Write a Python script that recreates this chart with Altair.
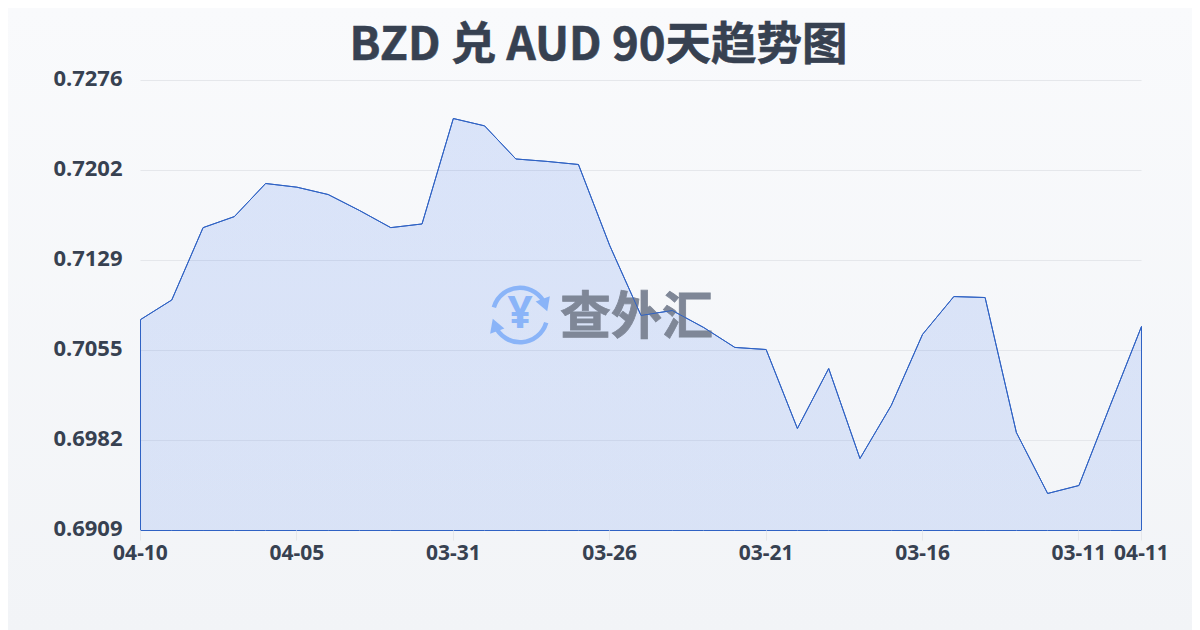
import altair as alt
import pandas as pd

dates = ["04-10","04-09","04-08","04-07","04-06","04-05","04-04","04-03","04-02","04-01","03-31",
         "03-30","03-29","03-28","03-27","03-26","03-25","03-24","03-23","03-22","03-21",
         "03-20","03-19","03-18","03-17","03-16","03-15","03-14","03-13","03-12","03-11","03-10","04-11"]
rates = [0.7081,0.7097,0.7156,0.7165,0.7192,0.7189,0.7183,0.7170,0.7156,0.7159,0.7245,
         0.7239,0.7212,0.7210,0.72075,0.71414,0.70844,0.70884,0.70746,0.70583,0.70566,
         0.69922,0.70411,0.69677,0.7011,0.70689,0.70998,0.7099,0.69889,0.69392,0.69457,0.7011,0.70754]
x_ticks = ["04-10","04-05","03-31","03-26","03-21","03-16","03-11","04-11"]
y_ticks = [0.6909,0.69824,0.70558,0.71292,0.72026,0.7276]
title_text = "BZD 兑 AUD 90天趋势图"
watermark = "查外汇"
y_floor = 0.6909
y_top = 0.7276

W, H = 1001, 450
L, T = 132.5, 72.5
TOTAL_W, TOTAL_H = 1184, 622
FONT = "Noto Sans"
CJK = "Noto Sans CJK SC"
INK = "#374151"

df = pd.DataFrame({"date": dates, "rate": rates, "floor": [y_floor] * len(rates)})
y_scale = alt.Scale(domain=[y_floor, y_top], nice=False, zero=False)
x = alt.X("date:N", sort=None, scale=alt.Scale(type="point", padding=0),
          axis=alt.Axis(values=x_ticks, title=None, labelAngle=0, labelFont=FONT, labelFontSize=21,
                        labelFontWeight="bold", labelColor=INK, labelPadding=2, tickColor="#e5e7eb",
                        tickSize=10, domain=False, grid=False, labelOverlap=False, zindex=1, translate=0))
y = alt.Y("rate:Q", scale=y_scale,
          axis=alt.Axis(values=y_ticks, title=None, labelFont=FONT, labelFontSize=22, labelFontWeight="bold",
                        labelColor=INK, labelPadding=18, labelOffset=-2, ticks=False, domain=False, grid=False,
                        zindex=1, translate=0,
                        labelExpr="format(floor(datum.value*10000+0.001)/10000,'.4f')"))

one = pd.DataFrame({"a": [1]})
page_bg = alt.Chart(one).mark_rect(
    fill=alt.Gradient(gradient="linear", x1=0, y1=0, x2=0, y2=1,
                      stops=[alt.GradientStop(color="#f9fafc", offset=0),
                             alt.GradientStop(color="#f2f4f7", offset=1)])
).encode(x=alt.value(-L), x2=alt.value(TOTAL_W - L), y=alt.value(-T), y2=alt.value(TOTAL_H - T))

grid = alt.Chart(pd.DataFrame({"rate": y_ticks})).mark_rule(color="#e5e7eb", strokeWidth=1).encode(y=y)

area = alt.Chart(df).mark_area(
    interpolate="linear", stroke="#2f62c4", strokeWidth=1,
    fill=alt.Gradient(gradient="linear", x1=0, y1=0, x2=0, y2=1,
                      stops=[alt.GradientStop(color="rgba(37,99,235,0.14)", offset=0),
                             alt.GradientStop(color="rgba(37,99,235,0.125)", offset=1)]),
).encode(x=x, y=y, y2=alt.Y2("floor:Q"))

def val(v):
    return alt.value(v)

# watermark, placed relative to the plot area
cx, cy = 520 - 8 - L, 315 - 8 - T
BLUE = "#8ab4f8"
def ring(a, b):
    return alt.Chart(one).mark_arc(color=BLUE, innerRadius=25, outerRadius=29.5, theta=a, theta2=b).encode(
        x=val(cx), y=val(cy))
arc_top_l = ring(5.0, 6.283)
arc_top_r = ring(0, 1.15)
arc_bot = ring(1.85, 4.3)
head1 = alt.Chart(one).mark_point(shape="triangle-down", size=230, filled=True, color=BLUE, opacity=1, angle=340).encode(
    x=val(cx + 25), y=val(cy - 10))
head2 = alt.Chart(one).mark_point(shape="triangle-up", size=230, filled=True, color=BLUE, opacity=1, angle=340).encode(
    x=val(cx - 25), y=val(cy + 10))
yen = alt.Chart(one).mark_text(text="¥", font=FONT, fontSize=44, fontWeight="bold", color=BLUE,
                               align="center", baseline="middle").encode(x=val(cx), y=val(cy))
wm = alt.Chart(one).mark_text(text=watermark, font=CJK, fontSize=51, fontWeight="bold", color="#7f8797",
                              stroke="#7f8797", strokeWidth=0.8,
                              align="left", baseline="middle", opacity=1).encode(x=val(cx + 40), y=val(cy + 4))
line_over = alt.Chart(df).mark_line(color="#2f62c4", strokeWidth=1).encode(x=x, y=y)

title = alt.Chart(one).mark_text(text=title_text, font=CJK, fontSize=45.5, fontWeight="bold", color=INK,
                                 stroke=INK, strokeWidth=0.6,
                                 align="center", baseline="middle").encode(
    x=val(598.5 - 8 - L), y=val(46 - 8 - T))

chart = alt.layer(page_bg, grid, area, arc_top_l, arc_top_r, arc_bot, head1, head2, yen, wm, line_over, title).properties(
    width=W, height=H,
    padding={"left": L, "top": T, "right": TOTAL_W - L - W, "bottom": TOTAL_H - T - H},
    autosize=alt.AutoSizeParams(type="none"),
    background="#f5f7f9",
).configure_view(stroke=None)

chart.save("out.html", embed_options={"renderer": "svg", "actions": False})
